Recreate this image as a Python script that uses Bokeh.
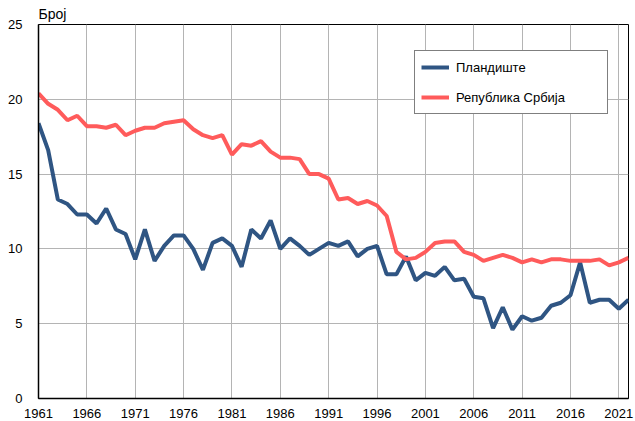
from bokeh.plotting import figure
from bokeh.models import Range1d, FixedTicker, Legend, LegendItem
from bokeh.embed import file_html
from bokeh.resources import INLINE

years = list(range(1961, 2023))

plandiste = [18.4, 16.6, 13.3, 13.0, 12.3, 12.3, 11.7, 12.7, 11.3, 11.0,
             9.3, 11.3, 9.2, 10.2, 10.9, 10.9, 10.0, 8.6, 10.4, 10.7,
             10.2, 8.8, 11.3, 10.7, 11.9, 10.0, 10.7, 10.2, 9.6, 10.0,
             10.4, 10.2, 10.5, 9.5, 10.0, 10.2, 8.3, 8.3, 9.5, 7.9,
             8.4, 8.2, 8.8, 7.9, 8.0, 6.8, 6.7, 4.7, 6.1, 4.6,
             5.5, 5.2, 5.4, 6.2, 6.4, 6.9, 9.1, 6.4, 6.6, 6.6,
             6.0, 6.6]

srbija = [20.4, 19.7, 19.3, 18.6, 18.9, 18.2, 18.2, 18.1, 18.3, 17.6,
          17.9, 18.1, 18.1, 18.4, 18.5, 18.6, 18.0, 17.6, 17.4, 17.6,
          16.3, 17.0, 16.9, 17.2, 16.5, 16.1, 16.1, 16.0, 15.0, 15.0,
          14.7, 13.3, 13.4, 13.0, 13.2, 12.9, 12.2, 9.8, 9.3, 9.4,
          9.8, 10.4, 10.5, 10.5, 9.8, 9.6, 9.2, 9.4, 9.6, 9.4,
          9.1, 9.3, 9.1, 9.3, 9.3, 9.2, 9.2, 9.2, 9.3, 8.9,
          9.1, 9.4]

x_ticks = list(range(1961, 2022, 5))
y_ticks = [0, 5, 10, 15, 20, 25]

series_names = ["Пландиште", "Република Србија"]
colors = ["#2f5583", "#ff5b5b"]
font = "Liberation Sans"

p = figure(width=635, height=421, output_backend="svg", toolbar_location=None,
           x_range=Range1d(1961, 2022), y_range=Range1d(0, 25),
           min_border_left=38, min_border_right=7, min_border_bottom=23,
           min_border_top=0, title="Број")

p.title.align = "left"
p.title.text_font = font
p.title.text_font_size = "14px"
p.title.text_font_style = "normal"
p.title.text_color = "#000000"
p.title.standoff = 6
p.title.offset = 0

p.outline_line_color = "#000000"
p.outline_line_width = 1

for ax in (p.xaxis[0], p.yaxis[0]):
    ax.axis_line_color = "#000000"
    ax.axis_line_width = 1.5
    ax.major_tick_line_color = None
    ax.minor_tick_line_color = None
    ax.major_label_text_font = font
    ax.major_label_text_font_size = "13px"
    ax.major_label_text_color = "#000000"

p.xaxis[0].ticker = FixedTicker(ticks=x_ticks)
p.yaxis[0].ticker = FixedTicker(ticks=y_ticks)
p.xaxis[0].major_label_standoff = 4
p.yaxis[0].major_label_standoff = 10

p.xgrid.ticker = FixedTicker(ticks=x_ticks)
p.ygrid.ticker = FixedTicker(ticks=y_ticks)
p.xgrid.grid_line_color = "#b4b4b4"
p.ygrid.grid_line_color = "#b4b4b4"
p.xgrid.grid_line_width = 1
p.ygrid.grid_line_width = 1

r1 = p.line(years, plandiste, line_color=colors[0], line_width=4)
r2 = p.line(years, srbija, line_color=colors[1], line_width=4)

legend = Legend(items=[LegendItem(label=series_names[0], renderers=[r1]),
                       LegendItem(label=series_names[1], renderers=[r2])],
                location=(376, 284))
legend.label_text_font = font
legend.label_text_font_size = "13px"
legend.label_text_color = "#000000"
legend.glyph_width = 28
legend.glyph_height = 20
legend.label_height = 20
legend.label_standoff = 7
legend.spacing = 10
legend.padding = 6
legend.margin = 0
legend.label_width = 145
legend.border_line_color = "#000000"
legend.border_line_width = 1
legend.background_fill_color = "#ffffff"
legend.background_fill_alpha = 1
p.add_layout(legend, "center")

open("out.html", "w").write(file_html(p, INLINE))
